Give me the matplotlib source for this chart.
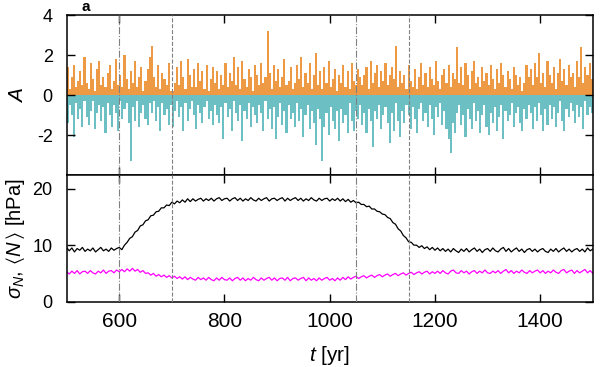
import numpy as np
import matplotlib
matplotlib.use("Agg")
import matplotlib.pyplot as plt

plt.rcParams['font.family'] = ['Liberation Sans', 'DejaVu Sans']
plt.rcParams['mathtext.fontset'] = 'custom'
plt.rcParams['mathtext.rm'] = 'Liberation Sans'
plt.rcParams['mathtext.it'] = 'Liberation Sans:italic'
plt.rcParams['mathtext.fallback'] = 'stixsans'
plt.rcParams['axes.unicode_minus'] = False

# ---- data: A index, 4-year bins starting 500 (max positive / min negative per bin)
a_pos = [
    1.4, 0.3, 0.9, 1.5, 0.4, 0.7, 1.2, 0.5, 1.9, 0.6,
    0.3, 1.6, 0.8, 0.2, 1.3, 1.7, 0.5, 0.9, 0.4, 1.1,
    1.5, 0.3, 0.7, 1.8, 0.5, 1.0, 0.4, 2.0, 0.8, 0.3,
    1.2, 0.6, 1.7, 0.4, 0.9, 1.4, 0.2, 0.7, 1.3, 1.9,
    2.45, 0.9, 0.4, 1.5, 0.3, 1.1, 0.8, 0.5, 1.6, 0.2,
    0.2, 0.6, 1.4, 0.5, 1.7, 0.9, 0.3, 1.8, 1.0, 0.4,
    1.3, 0.4, 1.6, 0.7, 1.2, 0.3, 1.5, 0.2, 0.8, 1.4,
    0.6, 1.2, 0.3, 1.0, 0.5, 1.6, 0.4, 1.1, 0.7, 1.9,
    0.5, 1.4, 0.3, 1.7, 0.8, 0.4, 1.3, 0.9, 0.2, 1.5,
    1.0, 0.5, 1.6, 0.6, 0.9, 3.2, 1.1, 0.3, 1.5, 0.7,
    1.3, 0.4, 0.9, 1.8, 0.5, 0.7, 1.4, 0.3, 0.6, 1.5,
    0.8, 1.9, 0.4, 1.1, 0.6, 1.6, 0.3, 1.0, 2.1, 0.5,
    1.2, 0.3, 1.4, 0.6, 1.7, 0.4, 0.8, 1.3, 0.2, 1.0,
    0.6, 1.5, 0.4, 1.2, 0.3, 1.6, 0.7, 0.5, 1.3, 0.9,
    0.5, 1.0, 1.4, 0.3, 1.7, 0.6, 1.1, 1.5, 0.4, 1.2,
    0.7, 1.6, 0.5, 1.0, 1.4, 0.8, 2.45, 0.4, 1.2, 0.6,
    1.0, 0.3, 1.5, 0.7, 0.4, 1.3, 0.3, 0.9, 1.6, 0.5,
    1.1, 0.4, 1.4, 0.8, 0.5, 1.7, 0.7, 0.3, 1.0, 1.3,
    0.6, 1.5, 0.4, 1.1, 0.8, 2.4, 0.6, 1.4, 0.5, 1.6,
    1.0, 0.3, 1.2, 1.7, 0.6, 0.9, 0.4, 1.4, 0.7, 1.1,
    0.5, 1.5, 0.8, 0.3, 1.3, 0.6, 1.6, 1.0, 0.4, 1.2,
    0.8, 0.3, 1.4, 1.0, 0.5, 0.9, 0.2, 0.6, 1.5, 0.9,
    1.3, 0.5, 1.6, 0.9, 2.1, 0.6, 1.1, 0.4, 1.7, 1.0,
    0.6, 1.4, 0.3, 1.1, 1.8, 0.7, 1.3, 0.5, 1.5, 0.9,
    1.1, 0.4, 1.7, 0.9, 2.4, 0.6, 1.4, 1.0, 1.6, 0.8,
]
a_neg = [
    -1.4, -0.5, -1.0, -2.1, -0.4, -1.2, -0.7, -1.6, -0.3, -1.1,
    -1.5, -0.8, -0.3, -1.7, -0.9, -0.5, -1.3, -0.6, -1.9, -0.4,
    -1.0, -1.6, -0.5, -0.9, -1.8, -0.3, -1.2, -0.7, -0.4, -1.4,
    -3.3, -0.6, -1.3, -0.3, -1.6, -0.9, -0.5, -1.2, -1.5, -0.4,
    -0.9, -0.3, -1.3, -0.6, -1.8, -0.4, -1.0, -0.7, -1.5, -0.5,
    -1.6, -0.8, -0.3, -1.1, -0.6, -1.8, -0.4, -1.3, -0.7, -0.3,
    -1.0, -1.7, -0.5, -0.9, -1.4, -0.6, -0.3, -1.2, -0.8, -1.5,
    -0.5, -1.0, -1.4, -0.6, -2.2, -0.4, -1.1, -0.7, -1.8, -0.3,
    -0.9, -1.3, -0.5, -2.3, -0.8, -1.2, -0.4, -1.6, -0.6, -1.0,
    -1.4, -0.5, -0.9, -1.8, -0.3, -1.2, -0.7, -1.7, -0.6, -2.2,
    -1.1, -0.4, -1.5, -0.8, -1.9, -0.5, -1.2, -0.9, -1.6, -0.4,
    -1.3, -0.7, -2.1, -1.0, -0.5, -1.7, -0.8, -1.4, -2.5, -0.7,
    -1.2, -3.3, -1.6, -0.9, -2.0, -0.6, -1.3, -1.7, -0.8, -2.3,
    -0.7, -1.4, -1.0, -1.9, -0.4, -1.3, -1.8, -0.8, -1.2, -0.5,
    -1.5, -0.9, -1.9, -0.7, -1.3, -2.6, -0.8, -1.2, -0.5, -1.7,
    -1.0, -0.6, -1.4, -2.4, -0.9, -1.8, -0.4, -1.3, -2.1, -0.8,
    -1.4, -0.5, -1.0, -1.7, -0.6, -1.2, -1.9, -0.7, -0.4, -1.3,
    -0.9, -1.6, -0.5, -1.2, -2.0, -0.6, -1.1, -0.4, -1.5, -0.8,
    -1.7, -2.2, -2.9, -1.4, -1.9, -0.9, -0.5, -1.5, -1.0, -2.1,
    -0.7, -1.2, -1.7, -0.4, -1.3, -0.8, -1.9, -1.0, -0.5, -1.6,
    -2.0, -0.9, -1.4, -0.6, -1.8, -1.1, -0.5, -2.2, -0.8, -1.3,
    -1.0, -0.4, -1.6, -0.9, -0.6, -1.4, -1.8, -0.7, -1.2, -0.5,
    -0.9, -1.7, -0.6, -1.3, -0.4, -1.0, -1.8, -0.7, -1.5, -0.5,
    -1.2, -0.6, -1.6, -0.9, -0.3, -1.3, -1.8, -0.7, -1.1, -0.4,
    -0.8, -1.4, -0.5, -1.1, -0.6, -1.7, -0.3, -1.0, -0.6, -0.9,
]
a_years = [500 + 4 * i for i in range(len(a_pos))]

# ---- data: sigma_N and <N> every 5 years, 500..1500
line_years = [500 + 5 * i for i in range(201)]
sigma_n = [
    9.6, 9.0, 9.5, 8.8, 9.4, 9.1, 9.6, 8.9, 9.3, 9.0, 9.5, 8.8, 9.2, 9.6, 9.0, 9.3, 8.9, 9.5, 9.1, 9.4, 9.6,
    9.2, 10.0, 10.5, 11.2, 11.5, 12.3, 12.6, 13.4, 13.6, 14.3, 14.5, 15.2, 15.3, 15.9, 16.0, 16.6, 16.6, 17.1, 17.0, 17.6,
    17.3, 17.8, 17.5, 18.0, 17.6, 18.2, 17.7, 18.2, 17.8, 18.1, 18.3, 17.8, 18.2, 17.9, 18.3, 17.8, 18.2, 18.4, 17.9, 18.2,
    18.3, 17.8, 18.2, 18.4, 17.9, 18.3, 17.8, 18.2, 17.9, 18.4, 18.0, 17.8, 18.3, 17.9, 18.2, 18.4, 17.8, 18.2, 18.3, 17.9,
    18.2, 18.4, 17.8, 18.3, 17.9, 18.2, 18.4, 17.9, 18.3, 17.8, 18.2, 17.9, 18.4, 18.0, 17.8, 18.3, 17.9, 18.2, 18.3, 17.8,
    18.2, 17.9, 18.3, 17.8, 18.2, 17.7, 18.1, 17.6, 17.9, 17.5, 17.6, 17.2, 17.2, 16.8, 16.9, 16.4, 16.4, 16.0, 15.9, 15.5,
    15.4, 14.9, 14.7, 14.0, 13.7, 12.9, 12.5, 11.7, 11.3, 10.6, 10.5, 10.0, 10.0, 9.6, 9.9, 9.4, 9.7, 9.2, 9.6, 9.1,
    9.5, 9.0, 9.4, 8.9, 9.3, 8.8, 9.4, 9.0, 8.7, 9.3, 8.9, 9.4, 8.8, 9.2, 9.5, 8.9, 9.3, 8.7, 9.2, 9.4,
    8.9, 9.5, 9.0, 8.8, 9.3, 9.6, 8.9, 9.4, 8.8, 9.2, 9.5, 8.9, 9.3, 8.7, 9.2, 9.4, 8.9, 9.3, 8.8, 9.2,
    9.4, 8.9, 8.7, 9.3, 8.9, 9.4, 8.8, 9.2, 9.5, 8.9, 9.3, 8.8, 9.2, 9.4, 8.9, 9.3, 8.8, 9.5, 9.0, 9.3,
]
mean_n = [
    5.3, 4.9, 5.4, 5.0, 5.5, 4.9, 5.3, 5.4, 5.0, 5.5, 5.1, 4.9, 5.4, 5.1, 5.6, 5.0, 5.4, 5.5, 5.1, 5.6, 5.3,
    5.7, 5.3, 5.8, 5.4, 5.9, 5.4, 5.7, 5.2, 5.5, 5.0, 5.1, 4.7, 5.0, 4.5, 4.8, 4.4, 4.7, 4.3, 4.6, 4.2,
    4.5, 4.1, 4.4, 4.0, 4.4, 3.9, 4.3, 4.0, 3.8, 4.3, 3.9, 4.2, 3.8, 4.3, 3.9, 3.7, 4.2, 3.8, 4.3, 3.9,
    3.8, 4.2, 3.7, 4.1, 4.3, 3.8, 4.2, 3.7, 4.1, 3.8, 4.3, 3.9, 3.7, 4.2, 3.8, 4.1, 4.3, 3.8, 4.2, 3.7,
    4.1, 4.2, 3.8, 4.3, 3.7, 4.1, 4.2, 3.8, 4.1, 4.3, 3.7, 4.2, 3.8, 4.1, 3.7, 4.2, 3.8, 4.1, 4.3, 3.8,
    4.1, 3.7, 4.2, 3.8, 4.3, 3.9, 4.4, 4.0, 4.3, 4.5, 4.1, 4.4, 4.6, 4.2, 4.5, 4.7, 4.3, 4.6, 4.8, 4.4,
    4.7, 4.9, 4.5, 4.8, 5.0, 4.6, 4.9, 5.1, 4.7, 5.0, 5.2, 4.8, 5.1, 5.3, 4.9, 5.2, 5.4, 4.9, 5.3, 5.0,
    5.4, 5.0, 5.5, 5.1, 4.9, 5.4, 5.6, 5.1, 5.0, 5.5, 5.1, 5.4, 4.9, 5.3, 5.5, 5.0, 5.4, 5.1, 5.6, 5.1,
    5.0, 5.4, 5.1, 5.5, 5.0, 5.4, 5.7, 5.1, 5.5, 5.0, 5.4, 5.1, 5.6, 5.2, 5.0, 5.5, 5.1, 5.4, 5.6, 5.1,
    5.5, 5.0, 5.4, 5.1, 5.6, 5.2, 5.0, 5.5, 5.7, 5.1, 5.4, 5.6, 5.0, 5.5, 5.1, 5.4, 5.7, 5.1, 5.5, 5.0,
]

vlines = [600, 700, 1050, 1150]
vstyles = ['dashdot', 'dashed', 'dashdot', 'dashed']
x_ticks = [600, 800, 1000, 1200, 1400]

fig = plt.figure(figsize=(6.0, 3.67), dpi=100)
ax1 = fig.add_axes([0.111, 0.523, 0.877, 0.436])
ax2 = fig.add_axes([0.111, 0.178, 0.877, 0.345], sharex=ax1)

ax1.bar(a_years, a_pos, width=4, align='edge', color='#ee9a45', linewidth=0)
ax1.bar(a_years, a_neg, width=4, align='edge', color='#6cc0c3', linewidth=0)

ax2.plot(line_years, sigma_n, color='black', lw=0.9)
ax2.plot(line_years, mean_n, color='#ff00ff', lw=0.9)

for ax in (ax1, ax2):
    for xv, ls in zip(vlines, vstyles):
        ax.axvline(xv, color='#808080', lw=0.8, ls=ls, zorder=3)
    ax.tick_params(direction='in', length=6, width=1.0, top=True, right=True)
    ax.tick_params(axis='y', labelsize=13, pad=10)
    ax.tick_params(axis='x', labelsize=15, pad=7.5)
    for s in ax.spines.values():
        s.set_linewidth(1.1)

ax1.set_xlim(500, 1500)
ax1.set_ylim(-4, 4)
ax1.set_yticks([-2, 0, 2, 4])
ax1.set_xticks(x_ticks)
ax1.tick_params(labelbottom=False)
ax1.set_ylabel('$A$', fontsize=15)

ax2.set_ylim(0, 22.4)
ax2.set_yticks([0, 10, 20])
ax2.set_ylabel(r'$\sigma_N$, $\langle N\,\rangle$ [hPa]', fontsize=14.5)
ax2.set_xlabel('$t$ [yr]', fontsize=15, labelpad=9)

ax1.yaxis.set_label_coords(-0.076, 0.5)
ax2.yaxis.set_label_coords(-0.076, 0.5)

fig.text(0.135, 1.0, 'a', fontsize=11, fontweight='bold', va='top')

fig.savefig('out.png', dpi=100)
